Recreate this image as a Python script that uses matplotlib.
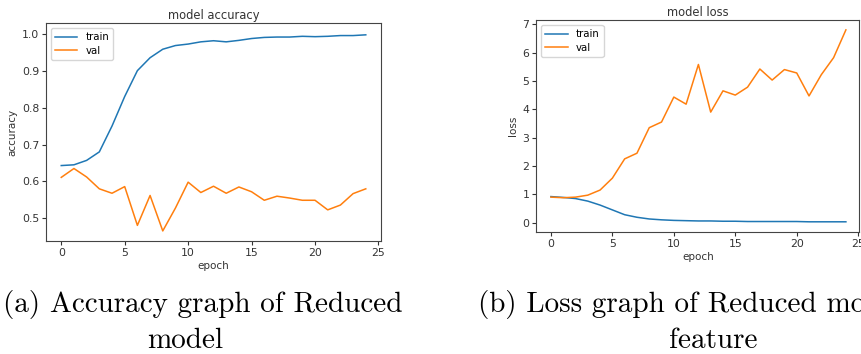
import matplotlib.pyplot as plt

epochs = list(range(25))

acc_train = [0.643, 0.645, 0.657, 0.680, 0.750, 0.830, 0.900, 0.935, 0.958, 0.968,
             0.972, 0.978, 0.981, 0.978, 0.982, 0.987, 0.990, 0.991, 0.991, 0.993,
             0.992, 0.993, 0.995, 0.995, 0.997]
acc_val = [0.611, 0.635, 0.612, 0.580, 0.568, 0.586, 0.481, 0.562, 0.466, 0.528,
           0.598, 0.570, 0.587, 0.568, 0.585, 0.572, 0.549, 0.560, 0.555, 0.549,
           0.549, 0.523, 0.536, 0.567, 0.580]

loss_train = [0.92, 0.89, 0.85, 0.76, 0.62, 0.45, 0.28, 0.19, 0.13, 0.10,
              0.08, 0.07, 0.06, 0.06, 0.05, 0.05, 0.04, 0.04, 0.04, 0.04,
              0.04, 0.03, 0.03, 0.03, 0.03]
loss_val = [0.90, 0.88, 0.90, 0.97, 1.15, 1.57, 2.25, 2.45, 3.35, 3.55,
            4.43, 4.18, 5.58, 3.90, 4.65, 4.50, 4.78, 5.42, 5.03, 5.40,
            5.28, 4.47, 5.22, 5.82, 6.80]

legend_labels = ['train', 'val']
caption_a = ['(a) Accuracy graph of Reduced', 'model']
caption_b = ['(b) Loss graph of Reduced model', 'feature']

fig = plt.figure(figsize=(8.62, 3.54), dpi=100)

def style(ax, title, ylabel):
    ax.set_title(title, fontsize=8.3, color='#333333', pad=3)
    ax.set_xlabel('epoch', fontsize=7.5, color='#333333', labelpad=2)
    ax.set_ylabel(ylabel, fontsize=7.5, color='#333333', labelpad=3)
    ax.tick_params(labelsize=7.8, colors='#333333', length=3, pad=2)
    for s in ax.spines.values():
        s.set_color('#444444')
    ax.legend(legend_labels, loc='upper left', fontsize=7.3, handlelength=2.2,
              borderpad=0.4, labelspacing=0.35)

ax1 = fig.add_axes([0.0534, 0.319, 0.3886, 0.616])
ax1.plot(epochs, acc_train, color='#1f77b4', lw=1.1)
ax1.plot(epochs, acc_val, color='#ff7f0e', lw=1.1)
ax1.set_xlim(-1.2, 25.2)
ax1.set_ylim(0.4385, 1.029)
ax1.set_xticks([0, 5, 10, 15, 20, 25])
ax1.set_yticks([0.5, 0.6, 0.7, 0.8, 0.9, 1.0])
style(ax1, 'model accuracy', 'accuracy')

ax2 = fig.add_axes([0.622, 0.3446, 0.375, 0.599])
ax2.plot(epochs, loss_train, color='#1f77b4', lw=1.1)
ax2.plot(epochs, loss_val, color='#ff7f0e', lw=1.1)
ax2.set_xlim(-1.2, 25.1)
ax2.set_ylim(-0.33, 7.15)
ax2.set_xticks([0, 5, 10, 15, 20, 25])
ax2.set_yticks(range(8))
style(ax2, 'model loss', 'loss')

# captions: (b) runs off the right edge, as in the source figure
cap = dict(fontsize=21, family='cmr10', va='baseline')
fig.text(0.003, 0.118, caption_a[0], ha='left', **cap)
fig.text(0.2146, 0.016, caption_a[1], ha='center', **cap)
fig.text(0.5545, 0.118, caption_b[0], ha='left', **cap)
fig.text(0.827, 0.016, caption_b[1], ha='center', **cap)

fig.savefig('out.png', dpi=100)
